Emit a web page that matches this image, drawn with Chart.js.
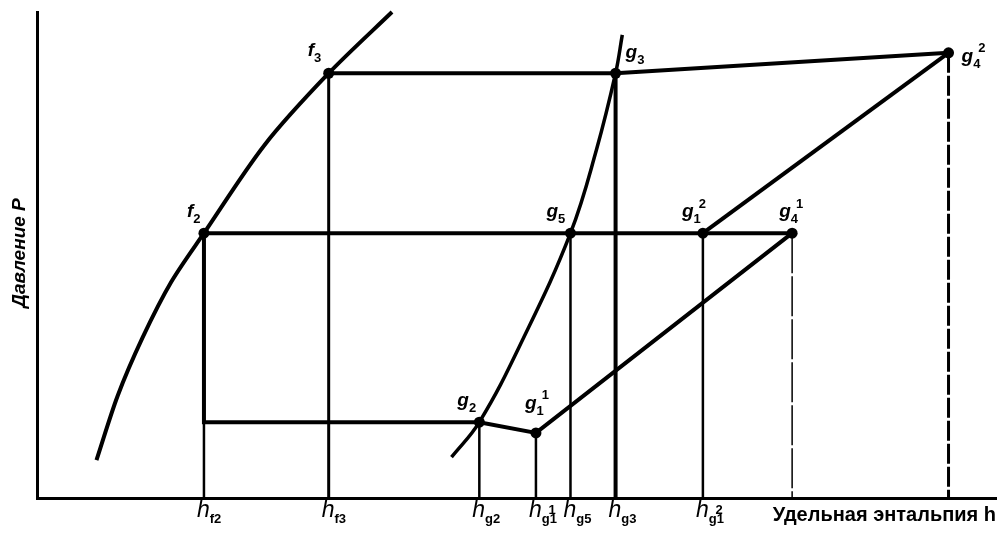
<!DOCTYPE html>
<html><head><meta charset="utf-8">
<script src="https://cdn.jsdelivr.net/npm/chart.js@4/dist/chart.umd.min.js"></script>
<style>html,body{margin:0;padding:0;background:#fff}#wrap{width:1002px;height:536px;position:relative}</style>
</head><body><div id="wrap"><canvas id="c"></canvas></div>
<script>
// Saturated liquid curve (h, P)
const liquidH = [6.2, 8.4, 11.0, 14.0, 17.4, 23.7, 30.4, 37.0];
const liquidP = [7.8, 21.0, 33.0, 44.5, 54.5, 72.6, 87.4, 100];
// Saturated vapour curve (h, P)
const vaporH = [43.2, 46.1, 50.6, 55.6, 58.3, 60.3, 61.0];
const vaporP = [8.4, 15.6, 32.5, 54.5, 71.6, 87.4, 95.3];
// State points
const stateNames = ['f2', 'f3', 'g2', 'g1_1', 'g5', 'g3', 'g1_2', 'g4_1', 'g4_2'];
const stateH = [17.4, 30.4, 46.1, 52.0, 55.6, 60.3, 69.4, 78.7, 95.0];
const stateP = [54.5, 87.4, 15.6, 13.4, 54.5, 87.4, 54.5, 54.5, 91.6];
const stateBase = ['f', 'f', 'g', 'g', 'g', 'g', 'g', 'g', 'g'];
const stateSub = ['2', '3', '2', '1', '5', '3', '1', '4', '4'];
const stateSup = ['', '', '', '1', '', '', '2', '1', '2'];
// x tick labels (enthalpy of states)
const tickStates = ['f2', 'f3', 'g2', 'g1_1', 'g5', 'g3', 'g1_2'];
const tickSub = ['f2', 'f3', 'g2', 'g1', 'g5', 'g3', 'g1'];
const tickSup = ['', '', '', '1', '', '', '2'];
const xTitle = 'Удельная энтальпия h';
const yTitle = 'Давление P';

const S = n => { const i = stateNames.indexOf(n); return {x: stateH[i], y: stateP[i]}; };
const pts = (hs, ps) => hs.map((h, i) => ({x: h, y: ps[i]}));

// label style offsets (pixels)
const labelOffsets = {
  f2: [-17, -16], f3: [-21, -17], g2: [-22, -16], g1_1: [-11, -24], g5: [-24, -16],
  g3: [10, -15], g1_2: [-21, -16], g4_1: [-13, -16], g4_2: [13, 9]
};

const line = (data, w, extra) => Object.assign({
  type: 'line', data, borderColor: '#000', borderWidth: w, pointRadius: 0,
  fill: false, tension: 0, clip: false, borderCapStyle: 'butt'
}, extra || {});

const datasets = [
  line(pts(liquidH, liquidP), 4, {tension: 0.3}),
  line(pts(vaporH, vaporP), 3.5, {tension: 0.4}),
  line([S('f3'), S('g3'), S('g4_2')], 4),
  line([S('f2'), S('g4_1')], 4),
  line([S('f2'), {x: S('f2').x, y: S('g2').y}, S('g2'), S('g1_1'), S('g4_1')], 4),
  line([S('g1_2'), S('g4_2')], 4),
  line([{x: S('f2').x, y: S('g2').y}, {x: S('f2').x, y: 0}], 2.5),
  line([S('f3'), {x: S('f3').x, y: 0}], 3),
  line([S('g2'), {x: S('g2').x, y: 0}], 2.5),
  line([S('g1_1'), {x: S('g1_1').x, y: 0}], 2.5),
  line([S('g5'), {x: S('g5').x, y: 0}], 2.5),
  line([S('g3'), {x: S('g3').x, y: 0}], 4),
  line([S('g1_2'), {x: S('g1_2').x, y: 0}], 2.5),
  line([S('g4_1'), {x: S('g4_1').x, y: 0}], 1.5, {borderDash: [40, 3]}),
  line([S('g4_2'), {x: S('g4_2').x, y: 0}], 3, {borderDash: [20, 3]}),
  {type: 'scatter', data: pts(stateH, stateP), pointRadius: 5.5, pointBackgroundColor: '#000',
   pointBorderColor: '#000', pointBorderWidth: 0, clip: false}
];

function rich(ctx, x, y, base, sub, sup, bs, ss, font, supOver) {
  ctx.font = font + ' ' + bs + 'px "Liberation Sans"';
  ctx.fillText(base, x, y);
  const bw = ctx.measureText(base).width;
  ctx.font = 'bold ' + ss + 'px "Liberation Sans"';
  let sw = 0;
  if (sub) { ctx.fillText(sub, x + bw, y + ss * 0.45); sw = ctx.measureText(sub).width; }
  if (sup) {
    if (supOver) ctx.fillText(sup, x + bw + sw * 0.45, y - bs * 0.15);
    else ctx.fillText(sup, sub ? x + bw + sw - 2 : x + bw, y - bs * 0.5);
  }
}

const labelPlugin = {
  id: 'labels',
  afterDraw(chart) {
    const ctx = chart.ctx, xs = chart.scales.x, ys = chart.scales.y;
    ctx.save();
    ctx.fillStyle = '#000';
    ctx.textBaseline = 'alphabetic';
    ctx.textAlign = 'left';
    stateNames.forEach((n, i) => {
      const px = xs.getPixelForValue(stateH[i]), py = ys.getPixelForValue(stateP[i]);
      const o = labelOffsets[n];
      rich(ctx, px + o[0], py + o[1], stateBase[i], stateSub[i], stateSup[i], 19, 13, 'italic bold', false);
    });
    tickStates.forEach((n, i) => {
      const px = xs.getPixelForValue(S(n).x);
      rich(ctx, px - 7, chart.chartArea.bottom + 19, 'h', tickSub[i], tickSup[i], 23, 13, 'italic', true);
    });
    ctx.font = 'bold 20px "Liberation Sans"';
    ctx.textAlign = 'right';
    ctx.fillText(xTitle, 996, chart.chartArea.bottom + 23);
    ctx.translate(25, 253);
    ctx.rotate(-Math.PI / 2);
    ctx.textAlign = 'center';
    ctx.font = 'italic bold 19px "Liberation Sans"';
    ctx.fillText(yTitle, 0, 0);
    ctx.restore();
  }
};

const axis = (fitKey) => ({
  type: 'linear', min: 0, max: 100,
  grid: {display: false, drawTicks: false},
  ticks: {display: false},
  border: {display: true, color: '#000', width: 3},
  afterFit: s => { s[fitKey] = 0; }
});

new Chart(document.getElementById('c'), {
  type: 'line',
  data: {datasets},
  options: {
    responsive: true, maintainAspectRatio: false, animation: false,
    layout: {padding: {left: 37, right: 2, top: 12, bottom: 38}},
    plugins: {legend: {display: false}, tooltip: {enabled: false}},
    scales: {x: axis('height'), y: axis('width')}
  },
  plugins: [labelPlugin]
});
</script></body></html>
